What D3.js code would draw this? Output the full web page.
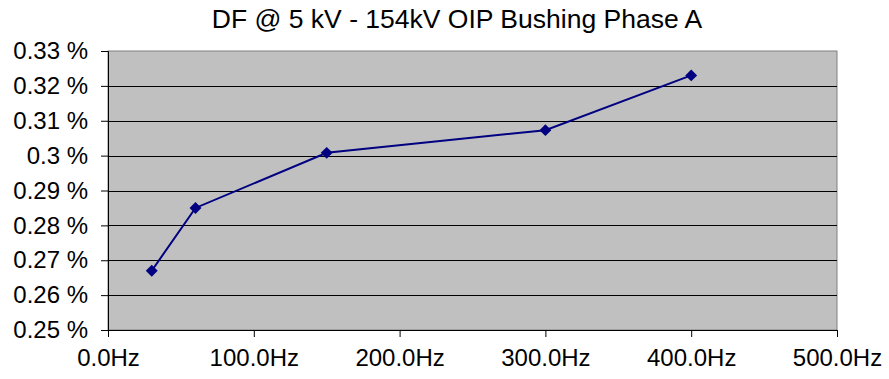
<!DOCTYPE html>
<html>
<head>
<meta charset="utf-8">
<script src="https://cdn.jsdelivr.net/npm/d3@7"></script>
<style>
  html, body { margin: 0; padding: 0; background: #fff; }
  svg { display: block; }
  text { font-family: "Liberation Sans", Arial, sans-serif; fill: #000; }
</style>
</head>
<body>
<svg id="chart" width="889" height="379"></svg>
<script>
// Dissipation factor measured at several test frequencies
const frequencies = [30, 60, 150, 300, 400];          // Hz
const dfValues    = [0.267, 0.285, 0.3008, 0.3073, 0.323]; // %
const xTicks = [0, 100, 200, 300, 400, 500];
const yTicks = [0.25, 0.26, 0.27, 0.28, 0.29, 0.30, 0.31, 0.32, 0.33];
const titleText = "DF @ 5 kV - 154kV OIP Bushing Phase A";

const svg = d3.select("#chart");
const margin = { left: 108, right: 52, top: 51, bottom: 49 };
const W = 889, H = 379;
const plotW = W - margin.left - margin.right;
const plotH = H - margin.top - margin.bottom;

const x = d3.scaleLinear().domain([0, 500]).range([0, plotW]);
const y = d3.scaleLinear().domain([0.25, 0.33]).range([plotH, 0]);

svg.append("text")
  .attr("x", 457).attr("y", 28)
  .attr("text-anchor", "middle")
  .style("font-size", "26.5px")
  .text(titleText);

const g = svg.append("g").attr("transform", `translate(${margin.left},${margin.top})`);

// plot background
g.append("rect")
  .attr("width", plotW).attr("height", plotH)
  .attr("fill", "#c0c0c0")
  .attr("stroke", "#808080").attr("stroke-width", 1);

// horizontal gridlines
g.selectAll("line.grid").data(yTicks.slice(1, -1)).enter().append("line")
  .attr("class", "grid")
  .attr("x1", 0).attr("x2", plotW)
  .attr("y1", d => Math.round(y(d)) + 0.5).attr("y2", d => Math.round(y(d)) + 0.5)
  .attr("stroke", "#000").attr("stroke-width", 1);

// y axis
const yAxis = d3.axisLeft(y).tickValues(yTicks).tickSize(7).tickPadding(13)
  .tickFormat(d => (+d.toFixed(2)).toString() + " %");
const ya = g.append("g").call(yAxis);
ya.select(".domain").attr("stroke", "#000");
ya.selectAll(".tick line").attr("stroke", "#000");
ya.selectAll("text").style("font-size", "24px").attr("fill", "#000")
  .style("font-family", "'Liberation Sans', Arial, sans-serif");

// x axis
const xAxis = d3.axisBottom(x).tickValues(xTicks).tickSize(7).tickPadding(12)
  .tickFormat(d => d.toFixed(1) + "Hz");
const xa = g.append("g").attr("transform", `translate(0,${plotH})`).call(xAxis);
xa.select(".domain").attr("stroke", "#000");
xa.selectAll(".tick line").attr("stroke", "#000");
xa.selectAll("text").style("font-size", "24px").attr("fill", "#000")
  .style("font-family", "'Liberation Sans', Arial, sans-serif");

// data series
const pts = frequencies.map((f, i) => ({ f, v: dfValues[i] }));
const line = d3.line().x(d => x(d.f)).y(d => y(d.v));
g.append("path").datum(pts)
  .attr("d", line)
  .attr("fill", "none")
  .attr("stroke", "#000080")
  .attr("stroke-width", 2);

const diamond = d3.symbol().type(d3.symbolDiamond2).size(90);
g.selectAll("path.pt").data(pts).enter().append("path")
  .attr("class", "pt")
  .attr("d", diamond)
  .attr("transform", d => `translate(${x(d.f)},${y(d.v)})`)
  .attr("fill", "#000080");
</script>
</body>
</html>
